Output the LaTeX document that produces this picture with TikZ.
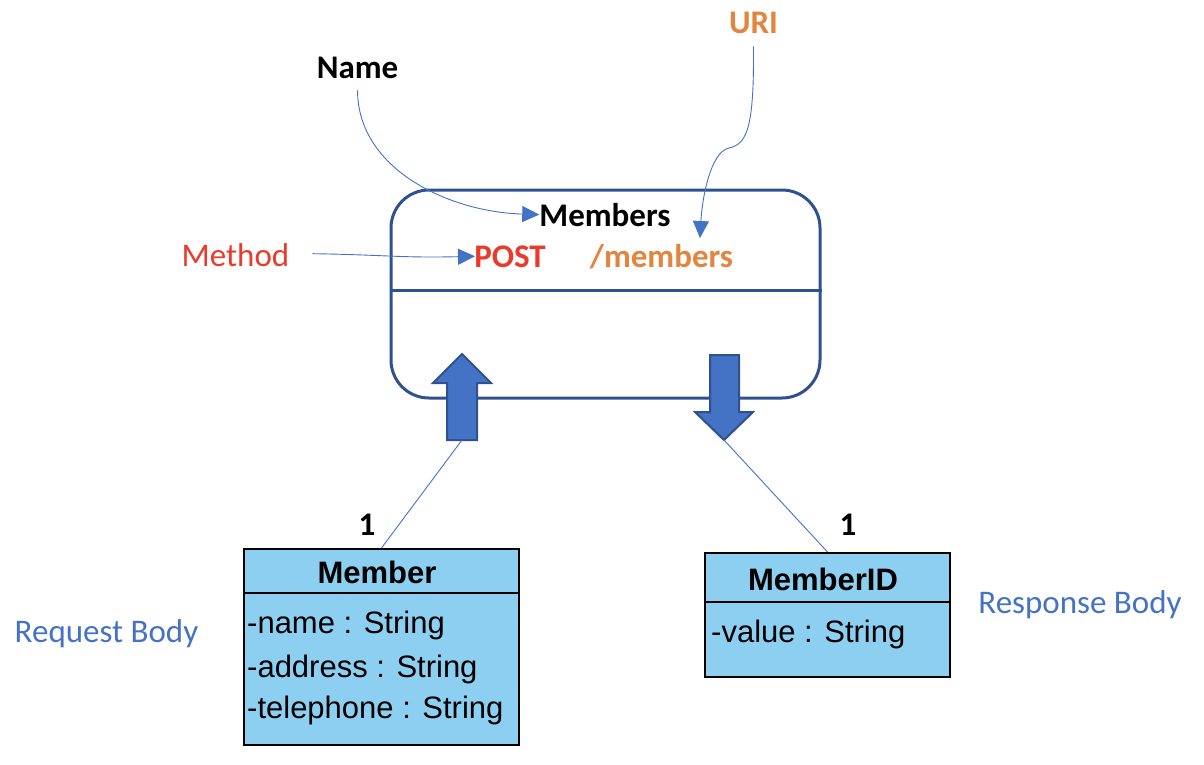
\documentclass[tikz,border=0pt]{standalone}
\usepackage{fontspec}
\setmainfont{Carlito}
\newfontfamily\arialf{Liberation Sans}
\usetikzlibrary{arrows.meta}
\definecolor{boxblue}{HTML}{2F528F}
\definecolor{accblue}{HTML}{4472C4}
\definecolor{mred}{HTML}{EA3A2C}
\definecolor{morange}{HTML}{E3843F}
\definecolor{umlfill}{HTML}{8DCFF1}
\begin{document}
\begin{tikzpicture}[x=1pt,y=-1pt,
  lbl/.style={inner sep=0pt, anchor=base, font=\fontsize{33}{36}\selectfont},
  blbl/.style={lbl, font=\fontsize{33}{36}\selectfont\bfseries},
  umltxt/.style={inner sep=0pt, anchor=base west, font=\arialf\fontsize{31}{34}\selectfont},
  umlhead/.style={inner sep=0pt, anchor=base, font=\arialf\fontsize{31}{34}\selectfont\bfseries},
  umlbox/.style={draw=black, line width=2pt, fill=umlfill, inner sep=0pt},
  conn/.style={accblue, line width=0.9pt, -{Triangle[length=17pt,width=16pt]}},
  thin/.style={accblue, line width=0.9pt},
  blockarrow/.style={fill=accblue, draw=boxblue, line width=2pt, line join=miter},
  resbox/.style={draw=boxblue, line width=3pt, rounded corners=38pt, minimum width=429pt, minimum height=208pt, inner sep=0pt}
]
\useasboundingbox (0,0) rectangle (1204,764);

% resource box
\node[resbox] (res) at (605.5,294) {};
\draw[boxblue, line width=3pt] (res.west |- 0,290) -- (res.east |- 0,290);

% texts in box
\node[blbl] (members) at (605,226) {Members};
\node[blbl, text=mred] (post) at (510,267) {POST};
\node[blbl, text=morange] (uri) at (661.5,267) {/members};

% outside labels
\node[blbl] (name) at (357.5,78) {Name};
\node[blbl, text=morange] (urilbl) at (753.5,33) {URI};
\node[lbl, text=mred] (method) at (235.5,266) {Method};
\node[lbl, text=accblue] (req) at (106.5,642) {Request Body};
\node[lbl, text=accblue] (resp) at (1080,613) {Response Body};
\node[blbl] (one1) at (367,535) {1};
\node[blbl] (one2) at (848,535) {1};

% annotation connectors
\draw[conn] ([yshift=-12pt]name.south) .. controls (358,170) and (450,212) .. (members.west);
\draw[conn] ([xshift=23pt,yshift=1pt]method.east) .. controls (390,255) and (400,258) .. ([xshift=1pt]post.west);
\coordinate (uriend) at (700,238);
\draw[conn] ([yshift=-13pt]urilbl.south) .. controls (754,125) and (748,144) .. (729,148) .. controls (710,152) and (702,200) .. (uriend);

% block arrows
\draw[blockarrow] (447,440) -- (447,383) -- (433,383) -- (462,354) -- (491,383) -- (477,383) -- (477,440) -- cycle;
\coordinate (upbase) at (462,440);
\draw[blockarrow] (710,355) -- (739,355) -- (739,412) -- (753,412) -- (724,440) -- (695,412) -- (710,412) -- cycle;
\coordinate (downtip) at (724,440);

% UML boxes
\node[umlbox, minimum width=275pt, minimum height=196pt] (member) at (381.5,647) {};
\draw[black, line width=2pt] (member.west |- 0,593) -- (member.east |- 0,593);
\node[umlhead] (memberh) at (377,583) {Member};
\node[umltxt] (a1) at (247,633) {-name : String};
\node[umltxt] (a2) at (247,677) {-address : String};
\node[umltxt] (a3) at (247,718) {-telephone : String};

\node[umlbox, minimum width=245pt, minimum height=124pt] (memberid) at (827.5,615) {};
\draw[black, line width=2pt] (memberid.west |- 0,602) -- (memberid.east |- 0,602);
\node[umlhead] (memberidh) at (823,590) {MemberID};
\node[umltxt] (b1) at (711,642) {-value : String};

% association lines
\draw[thin] (upbase) -- (member.north);
\draw[thin] (downtip) -- (memberid.north);
\end{tikzpicture}
\end{document}
